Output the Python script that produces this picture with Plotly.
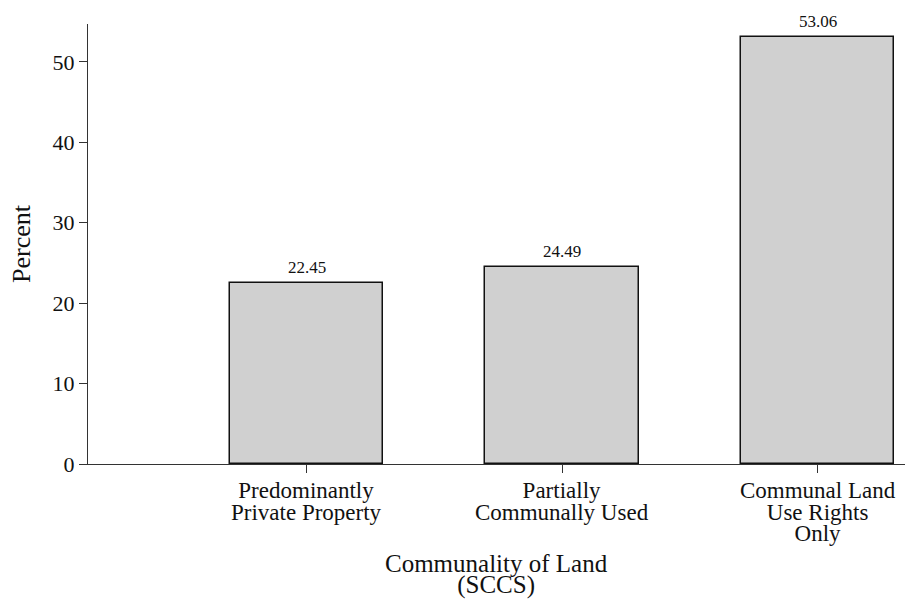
import plotly.graph_objects as go

categories = ["Predominantly Private Property", "Partially Communally Used", "Communal Land Use Rights Only"]
category_lines = [["Predominantly", "Private Property"],
                  ["Partially", "Communally Used"],
                  ["Communal Land", "Use Rights", "Only"]]
positions = [1, 2, 3]
percent = [22.45, 24.49, 53.06]
y_ticks = [0, 10, 20, 30, 40, 50]
x_title_lines = ["Communality of Land", "(SCCS)"]

FONT = "Liberation Serif, Times New Roman, serif"
INK = "#111111"


def tight_lines(lines, px):
    return "<br>".join(f"<span style='font-size:{px}px'>{ln}</span>" for ln in lines)


fig = go.Figure()
fig.add_trace(go.Bar(
    x=positions, y=percent, width=0.6,
    marker=dict(color="#d0d0d0", line=dict(color=INK, width=1.5)),
    hoverinfo="skip", showlegend=False,
))

annotations = []
for xp, v in zip(positions, percent):
    annotations.append(dict(x=xp, y=v, xref="x", yref="y", text=f"{v:.2f}",
                            showarrow=False, yanchor="middle", yshift=16,
                            font=dict(family=FONT, size=17, color=INK)))
for xp, lines in zip(positions, category_lines):
    annotations.append(dict(x=xp, y=0, xref="x", yref="paper", text=tight_lines(lines, 23),
                            showarrow=False, yanchor="top", yshift=-12,
                            font=dict(family=FONT, size=16.7, color=INK)))
annotations.append(dict(x=0.5, y=0, xref="paper", yref="paper", text=tight_lines(x_title_lines, 25),
                        showarrow=False, yanchor="top", yshift=-84,
                        font=dict(family=FONT, size=16.5, color=INK)))

fig.update_layout(
    width=905, height=601,
    margin=dict(l=88, r=0, t=24, b=137),
    paper_bgcolor="white", plot_bgcolor="white",
    font=dict(family=FONT, color=INK),
    annotations=annotations,
    xaxis=dict(range=[0.145, 3.342], tickmode="array", tickvals=positions,
               showticklabels=False, ticks="outside", ticklen=8, tickcolor="#333333",
               showline=True, linecolor="#333333", linewidth=1.2,
               showgrid=False, zeroline=False, fixedrange=True),
    yaxis=dict(range=[0, 54.7], tickmode="array", tickvals=y_ticks,
               ticktext=[str(t) for t in y_ticks],
               ticks="outside", ticklen=8, tickcolor="#333333",
               tickfont=dict(family=FONT, size=22, color=INK),
               showline=True, linecolor="#333333", linewidth=1.2,
               showgrid=False, zeroline=False, fixedrange=True,
               title=dict(text="Percent", font=dict(family=FONT, size=26, color=INK), standoff=14)),
    bargap=0,
)

fig.write_html("out.html",
               config={"displayModeBar": False},
               post_script="document.body.style.margin='0';document.body.style.overflow='hidden';")
